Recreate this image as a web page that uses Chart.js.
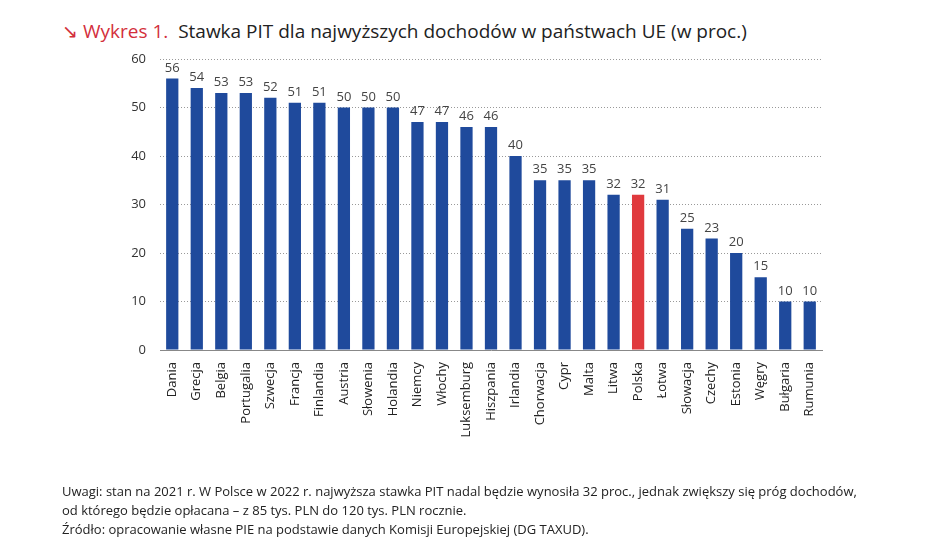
<!DOCTYPE html>
<html><head><meta charset="utf-8">
<script src="https://cdn.jsdelivr.net/npm/chart.js@4"></script>
<style>
body{margin:0;background:#fff;font-family:"Open Sans",sans-serif;}
#wrap{position:relative;width:948px;height:544px;overflow:hidden}
#title{position:absolute;left:62px;top:18px;font-size:19px;color:#222;white-space:nowrap}
#title span{color:#d32f3c}
#notes{position:absolute;left:62px;top:482px;font-size:13px;color:#222;line-height:19px}
canvas{position:absolute;left:0;top:0}
</style></head><body>
<div id="wrap">
<div id="title"><span>&#8600; Wykres 1.</span>&nbsp; Stawka PIT dla najwyższych dochodów w państwach UE (w proc.)</div>
<canvas id="c" width="948" height="544"></canvas>
<div id="notes">Uwagi: stan na 2021 r. W Polsce w 2022 r. najwyższa stawka PIT nadal będzie wynosiła 32 proc., jednak zwiększy się próg dochodów,<br>od którego będzie opłacana – z 85 tys. PLN do 120 tys. PLN rocznie.<br>Źródło: opracowanie własne PIE na podstawie danych Komisji Europejskiej (DG TAXUD).</div>
</div>
<script>
let countries = ['Dania','Grecja','Belgia','Portugalia','Szwecja','Francja','Finlandia','Austria','Słowenia','Holandia','Niemcy','Włochy','Luksemburg','Hiszpania','Irlandia','Chorwacja','Cypr','Malta','Litwa','Polska','Łotwa','Słowacja','Czechy','Estonia','Węgry','Bułgaria','Rumunia'];
let rates = [56,54,53,53,52,51,51,50,50,50,47,47,46,46,40,35,35,35,32,32,31,25,23,20,15,10,10];
let colors = countries.map(c => c === 'Polska' ? '#e03a3e' : '#1f4a9c');

const labelsPlugin = {
  id: 'vals',
  afterDatasetsDraw(chart) {
    let ctx = chart.ctx;
    let meta = chart.getDatasetMeta(0);
    ctx.save();
    ctx.font = '13px "Open Sans"';
    ctx.fillStyle = '#444';
    ctx.textAlign = 'center';
    ctx.textBaseline = 'bottom';
    meta.data.forEach((b, i) => ctx.fillText(rates[i], b.x, b.y - 4));
    ctx.restore();
  }
};

new Chart(document.getElementById('c'), {
  type: 'bar',
  data: {labels: countries, datasets: [{data: rates, backgroundColor: colors, categoryPercentage: 0.5, barPercentage: 1}]},
  options: {
    responsive: false, animation: false,
    layout: {padding: {left: 120, right: 126, top: 59, bottom: 0}},
    plugins: {legend: {display: false}, tooltip: {enabled: false}},
    scales: {
      x: {
        grid: {display: false},
        border: {color: '#888'},
        ticks: {color: '#222', font: {size: 13, family: '"Open Sans"'}, maxRotation: 90, minRotation: 90, padding: 4},
        afterFit: s => { s.height = 194; }
      },
      y: {
        min: 0, max: 60,
        ticks: {stepSize: 10, color: '#333', font: {size: 13, family: '"Open Sans"'}, padding: 14},
        grid: {color: '#999', drawTicks: false},
        border: {display: false, dash: [1, 2]},
        afterFit: s => { s.width = 40; }
      }
    }
  },
  plugins: [labelsPlugin]
});
</script>
</body></html>
